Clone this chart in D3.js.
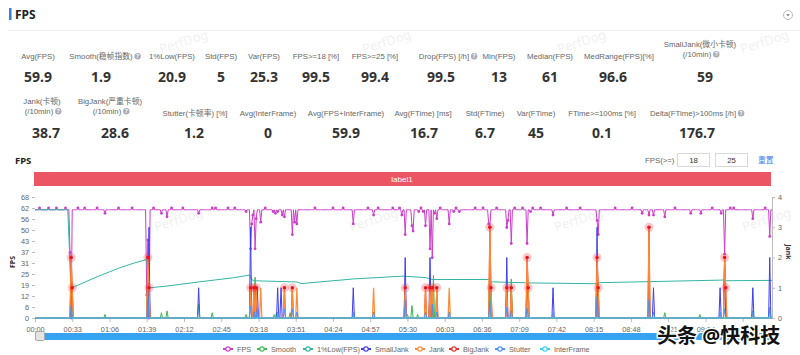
<!DOCTYPE html>
<html><head><meta charset="utf-8">
<script src="https://cdn.jsdelivr.net/npm/d3@7"></script>
<style>
body{margin:0;background:#fff;}
svg{font-family:"Noto Sans","Noto Sans CJK SC",sans-serif;}
.lbl{font-family:"Liberation Sans","Noto Sans CJK SC",sans-serif;}
</style></head>
<body><svg id="c" width="800" height="355"></svg>
<script>
// ---------------- DATA ----------------
const seconds = 654;               // samples 0..653 (one per second)
const timeTickStep = 33;           // x-axis label every 33 s
const leftTickValues = [0,6.2,12.4,18.6,24.8,31,37.2,43.4,49.6,55.8,62,68.2];
const leftTickLabels = ["0","6","12","19","25","31","37","43","50","56","62","68"];
const rightTickValues = [0,1,2,3,4];

const fpsBaseline = 61;
// [second, FPS] where FPS differs from baseline
const fpsPoints = [[4,62],[12,62],[19,62],[27,62],[31,37],[32,0],[38,62],[44,62],[55,62],[62,59],[74,62],[86,62],
 [99,13],[100,44],[101,0],[105,62],[112,59],[117,57],[121,62],[131,62],[145,59],[157,62],[160,62],[171,62],[177,62],
 [187,60],[191,39],[192,53],[193,58],[195,39],[196,56],[198,61],[200,54],[204,62],[211,60],[213,59],[215,60],[219,58],[221,57],
 [228,47],[230,54],[232,53],[248,62],[264,62],[273,62],[282,53],[295,62],[300,58],[304,62],[317,62],[323,62],
 [325,58],[328,47],[334,52],[335,49],[340,60],[342,62],[344,60],[346,52],[350,39],[352,34],[354,59],[356,56],
 [359,62],[367,53],[371,60],[373,62],[376,60],[390,62],[397,62],[402,53],[403,51],[409,62],[418,51],[419,55],[422,42],
 [425,62],[432,62],[436,42],[439,60],[441,62],[448,62],[459,58],[471,62],[483,62],[498,55],[499,47],[514,62],[529,62],
 [538,59],[544,58],[548,58],[558,57],[567,62],[581,59],[590,59],[600,62],[608,59],[611,36],[616,62],[619,62],[636,56],[647,62],[651,46]];

// [second, value] keyframes of the running 1% low FPS
const lowFpsPoints = [[0,61],[29,61],[32,17],[40,19],[47,21],[56,23.5],[66,26],[76,28.5],[87,30.8],[99,33],[101,17],
 [117,18],[146,20.4],[176,22.7],[190,24.2],[193,21],[232,20.3],[236,19.4],[282,22],[326,23.6],[346,22.8],[352,21.7],
 [402,21.7],[404,20.4],[436,19.8],[498,19.3],[500,19.9],[611,21.4],[612,21],[653,21.2]];

const smoothPoints = [[32,24],[62,2],[100,27],[112,3],[117,4],[145,8],[157,3],[187,2],[195,23],[212,2],[214,3],[226,3],
 [282,2],[330,2],[334,7],[339,2],[353,24],[403,23],[422,22],[436,21],[498,22],[544,24],[558,3],[589,2],[636,4],[651,6]];
const smallJankPoints = [[101,3],[145,1],[191,3],[197,1],[215,1],[218,1],[282,1],[328,2],[350,2],[418,2],[459,1],
 [498,3],[548,1],[607,1],[611,2],[636,1],[651,2]];
const jankPoints = [[32,2],[33,1],[100,2],[101,1],[191,1],[194,1],[196,1],[200,1],[221,1],[228,1],[232,1],[300,1],
 [328,1],[346,1],[350,1],[352,1],[356,1],[367,1],[403,3],[404,1],[418,1],[422,1],[436,2],[437,1],[498,2],[499,1],
 [544,3],[611,2],[612,1]];
const bigJankPoints = [[32,2],[33,1],[100,2],[101,1],[191,1],[194,1],[196,1],[221,1],[228,1],[328,1],[346,1],[350,1],
 [352,1],[356,1],[403,3],[404,1],[418,1],[422,1],[436,2],[437,1],[498,2],[499,1],[544,3],[611,2],[612,1]];
const stutterPoints = [[32,0.4],[100,0.65],[145,0.3],[191,0.4],[194,0.2],[197,0.3],[215,0.2],[221,0.3],[228,0.3],
 [232,0.2],[282,0.2],[300,0.2],[328,0.6],[346,0.2],[352,0.45],[356,0.2],[367,0.2],[403,0.55],[418,0.35],[422,0.25],
 [436,0.33],[459,0.2],[498,0.7],[544,0.6],[548,0.2],[607,0.2],[611,0.3],[636,0.2],[651,0.3]];
const interFrameValue = 0;

const seriesNames = ["FPS","Smooth","1%Low(FPS)","SmallJank","Jank","BigJank","Stutter","InterFrame"];
const seriesColors = ["#cc3ecb","#3dba4e","#33b5a5","#3d3df2","#ff8a33","#ee2b2b","#4d90f3","#33d6ee"];

const row1Labels = ["Avg(FPS)","Smooth(稳帧指数)","1%Low(FPS)","Std(FPS)","Var(FPS)","FPS>=18 [%]","FPS>=25 [%]","Drop(FPS) [/h]","Min(FPS)","Median(FPS)","MedRange(FPS)[%]"];
const row1Values = ["59.9","1.9","20.9","5","25.3","99.5","99.4","99.5","13","61","96.6"];
const row2Labels = ["Stutter(卡顿率) [%]","Avg(InterFrame)","Avg(FPS+InterFrame)","Avg(FTime) [ms]","Std(FTime)","Var(FTime)","FTime>=100ms [%]","Delta(FTime)>100ms [/h]"];
const row2Values = ["1.2","0","59.9","16.7","6.7","45","0.1","176.7"];
const twoLineLabels = [["SmallJank(微小卡顿)","(/10min)"],["Jank(卡顿)","(/10min)"],["BigJank(严重卡顿)","(/10min)"]];
const twoLineValues = ["59","38.7","28.6"];
const thresholdValues = ["18","25"];

// ---------------- BUILD SERIES ----------------
function fill(points, base){ const a = new Array(seconds).fill(base); points.forEach(([t,v])=>a[t]=v); return a; }
const fps = fill(fpsPoints, fpsBaseline);
const smooth = fill(smoothPoints, 0);
const smallJank = fill(smallJankPoints, 0);
const jank = fill(jankPoints, 0);
const bigJank = fill(bigJankPoints, 0);
const stutter = fill(stutterPoints, 0);
const interFrame = fill([], interFrameValue);

// ---------------- DRAW ----------------
const svg = d3.select("#c");
const gray = "#666", dark = "#333";
const LF = 7.8, VF = 14;

// watermarks
const wm = [[185,46],[388,46],[583,46],[766,46],[180,224],[375,224],[580,224],[768,224]];
svg.selectAll("text.wm").data(wm).join("text").attr("class","wm")
  .attr("transform",d=>`translate(${d[0]},${d[1]}) rotate(-18)`).attr("text-anchor","middle")
  .attr("font-size",13).attr("fill","#000").attr("opacity",0.055).text("PerfDog");

// header
svg.append("rect").attr("x",9).attr("y",8).attr("width",2.5).attr("height",12).attr("fill","#3a7bea");
svg.append("text").attr("x",15).attr("y",18.5).attr("font-size",12).attr("font-weight","bold").attr("fill","#222").text("FPS");
svg.append("line").attr("x1",8).attr("x2",800).attr("y1",30.5).attr("y2",30.5).attr("stroke","#eee");
svg.append("circle").attr("cx",788).attr("cy",15).attr("r",4.5).attr("fill","none").attr("stroke","#bbb");
svg.append("path").attr("d","M786.3,14.2 L789.7,14.2 L788,16.3 Z").attr("fill","#666");

function qIcon(x,y){
  svg.append("circle").attr("cx",x).attr("cy",y).attr("r",3.2).attr("fill","#a9adb8");
  svg.append("text").attr("x",x).attr("y",y+2.1).attr("text-anchor","middle").attr("font-size",5.5).attr("font-weight","bold").attr("fill","#fff").text("?");
}
function label(xc,y,txt,q){
  const t = svg.append("text").attr("class","lbl").attr("x",xc).attr("y",y).attr("text-anchor","middle").attr("font-size",LF).attr("fill",gray).text(txt);
  if(q){ const w=t.node().getComputedTextLength(); t.attr("x",xc-5); qIcon(xc-5+w/2+5,y-2.8); }
}
function value(xc,y,txt){
  svg.append("text").attr("x",xc).attr("y",y).attr("text-anchor","middle").attr("font-size",VF).attr("font-weight","bold").attr("fill",dark).text(txt);
}
const row1X = [38,101,172,221,264,316,375,444,499,550,619];
const row1VX = [38,101,172,221,264,316,375,441,499,550,613];
const row1Q = [false,true,false,false,false,false,false,true,false,false,false];
row1Labels.forEach((l,i)=>{ label(row1X[i]+(row1Q[i]?5:0),59,l,row1Q[i]); value(row1VX[i],82,row1Values[i]); });
const twoX = [[700,47],[42,104],[110,104]], twoVX=[705,46,115];
twoLineLabels.forEach((ls,i)=>{
  const [xc,y]=twoX[i];
  label(xc,y,ls[0],false);
  label(xc+2,y+10,ls[1],true);
  value(twoVX[i],i==0?82:138,twoLineValues[i]);
});
const row2X = [195,268,346,423,485,536,602,698];
const row2VX = [194,268,346,424,485,536,602,697];
row2Labels.forEach((l,i)=>{ label(row2X[i],116,l,i==7); value(row2VX[i],138,row2Values[i]); });

// chart sub-header
svg.append("text").attr("x",15).attr("y",164).attr("font-size",9.5).attr("font-weight","bold").attr("fill","#222").text("FPS");
svg.append("text").attr("class","lbl").attr("x",645).attr("y",163).attr("font-size",LF).attr("fill",gray).text("FPS(>=)");
[[677,thresholdValues[0]],[715,thresholdValues[1]]].forEach(([xx,v])=>{
  svg.append("rect").attr("x",xx+0.5).attr("y",153.5).attr("width",32).attr("height",13).attr("fill","#fff").attr("stroke","#d8d8d8");
  svg.append("text").attr("class","lbl").attr("x",xx+16.5).attr("y",163).attr("text-anchor","middle").attr("font-size",LF).attr("fill",dark).text(v);
});
svg.append("text").attr("x",758).attr("y",163).attr("font-size",7.8).attr("fill","#3f7fe8").text("重置");

// label bar
svg.append("rect").attr("x",34).attr("y",172).attr("width",737).attr("height",14).attr("fill","#ec5563");
svg.append("text").attr("class","lbl").attr("x",402).attr("y",182).attr("text-anchor","middle").attr("font-size",8).attr("fill","#fff").text("label1");

// scales
const x = d3.scaleLinear().domain([0,seconds-1]).range([35,772]);
const yL = d3.scaleLinear().domain([0,68.2]).range([318,197]);
const yR = d3.scaleLinear().domain([0,4]).range([318,197]);

// axes
const fmt = s => d3.format("02d")(Math.floor(s/60))+":"+d3.format("02d")(s%60);
const gx = svg.append("g").attr("transform","translate(0,318)")
  .call(d3.axisBottom(x).tickValues(d3.range(0,seconds,timeTickStep)).tickFormat(fmt).tickSize(4).tickSizeOuter(0));
gx.select(".domain").attr("stroke","#bbb");
gx.selectAll(".tick line").attr("stroke","#bbb");
gx.selectAll("text").attr("class","lbl").attr("font-size",7.3).attr("fill",gray).attr("dy","0.9em");
const gl = svg.append("g").attr("transform","translate(35,0)")
  .call(d3.axisLeft(yL).tickValues(leftTickValues).tickFormat((d,i)=>leftTickLabels[i]).tickSize(3).tickSizeOuter(0));
gl.select(".domain").remove();
gl.selectAll(".tick line").attr("stroke","#bbb");
gl.selectAll("text").attr("class","lbl").attr("font-size",7.3).attr("fill",gray);
const gr = svg.append("g").attr("transform","translate(772,0)")
  .call(d3.axisRight(yR).tickValues(rightTickValues).tickFormat(d3.format("d")).tickSize(3).tickSizeOuter(0));
gr.select(".domain").attr("stroke","#bbb");
gr.selectAll(".tick line").attr("stroke","#bbb");
gr.selectAll("text").attr("class","lbl").attr("font-size",7.3).attr("fill",gray);
svg.append("text").attr("transform","translate(15,262) rotate(-90)").attr("text-anchor","middle").attr("font-size",7).attr("font-weight","bold").attr("fill",dark).text("FPS");
svg.append("text").attr("transform","translate(786,252) rotate(90)").attr("text-anchor","middle").attr("font-size",7).attr("font-weight","bold").attr("fill",dark).text("Jank");

// series
const lineL = d3.line().x((d,i)=>x(i)).y(d=>yL(d));
const lineR = d3.line().x((d,i)=>x(i)).y(d=>yR(d));
const plot = svg.append("g");
plot.append("path").attr("d",lineL(fps)).attr("fill","none").attr("stroke",seriesColors[0]).attr("stroke-width",1);
plot.selectAll("circle.fp").data(fps.map((v,i)=>[i,v]).filter(d=>d[1]!==fpsBaseline)).join("circle")
  .attr("cx",d=>x(d[0])).attr("cy",d=>yL(d[1])).attr("r",1.4).attr("fill",seriesColors[0]);
plot.append("path").attr("d",lineL(smooth)).attr("fill","none").attr("stroke",seriesColors[1]).attr("stroke-width",1);
plot.append("path").attr("d",d3.line().x(d=>x(d[0])).y(d=>yL(d[1]))(lowFpsPoints)).attr("fill","none").attr("stroke",seriesColors[2]).attr("stroke-width",1);
plot.append("path").attr("d",lineR(smallJank)).attr("fill","none").attr("stroke",seriesColors[3]).attr("stroke-width",1);
plot.append("path").attr("d",lineR(bigJank)).attr("fill","none").attr("stroke",seriesColors[5]).attr("stroke-width",1);
plot.append("path").attr("d",lineR(jank)).attr("fill","none").attr("stroke",seriesColors[4]).attr("stroke-width",1.2);
const bj = bigJank.map((v,i)=>[i,v]).filter(d=>d[1]>0);
plot.selectAll("circle.bh").data(bj).join("circle").attr("cx",d=>x(d[0])).attr("cy",d=>yR(d[1])).attr("r",4.5).attr("fill","rgba(240,60,60,0.28)");
plot.selectAll("circle.bd").data(bj).join("circle").attr("cx",d=>x(d[0])).attr("cy",d=>yR(d[1])).attr("r",1.8).attr("fill","#e8141e");
plot.append("path").attr("d",lineR(stutter)).attr("fill","none").attr("stroke",seriesColors[6]).attr("stroke-width",1);
plot.append("path").attr("d",lineL(interFrame)).attr("fill","none").attr("stroke",seriesColors[7]).attr("stroke-width",1.2);

// slider
svg.append("rect").attr("x",35).attr("y",333).attr("width",740).attr("height",7).attr("fill","#35a2f2");
svg.append("rect").attr("x",35.5).attr("y",331.5).attr("width",9).attr("height",9).attr("rx",1.5).attr("fill","#e4e4e4").attr("stroke","#aaa");

// legend
const legX = [228,262,308,366,420,454,500,545];
seriesNames.forEach((n,i)=>{
  const g = svg.append("g").attr("transform",`translate(${legX[i]},349)`);
  g.append("line").attr("x1",-5).attr("x2",5).attr("stroke",seriesColors[i]).attr("stroke-width",2);
  g.append("circle").attr("r",2.2).attr("fill","#fff").attr("stroke",seriesColors[i]).attr("stroke-width",1.2);
  g.append("text").attr("class","lbl").attr("x",9).attr("y",2.7).attr("font-size",7.3).attr("fill",gray).text(n);
});

// source watermark
svg.append("text").attr("x",657).attr("y",343).attr("font-size",20).attr("font-weight","bold").attr("fill","#111")
  .attr("stroke","#fff").attr("stroke-width",3).attr("paint-order","stroke").text("头条 @快科技");
</script></body></html>
